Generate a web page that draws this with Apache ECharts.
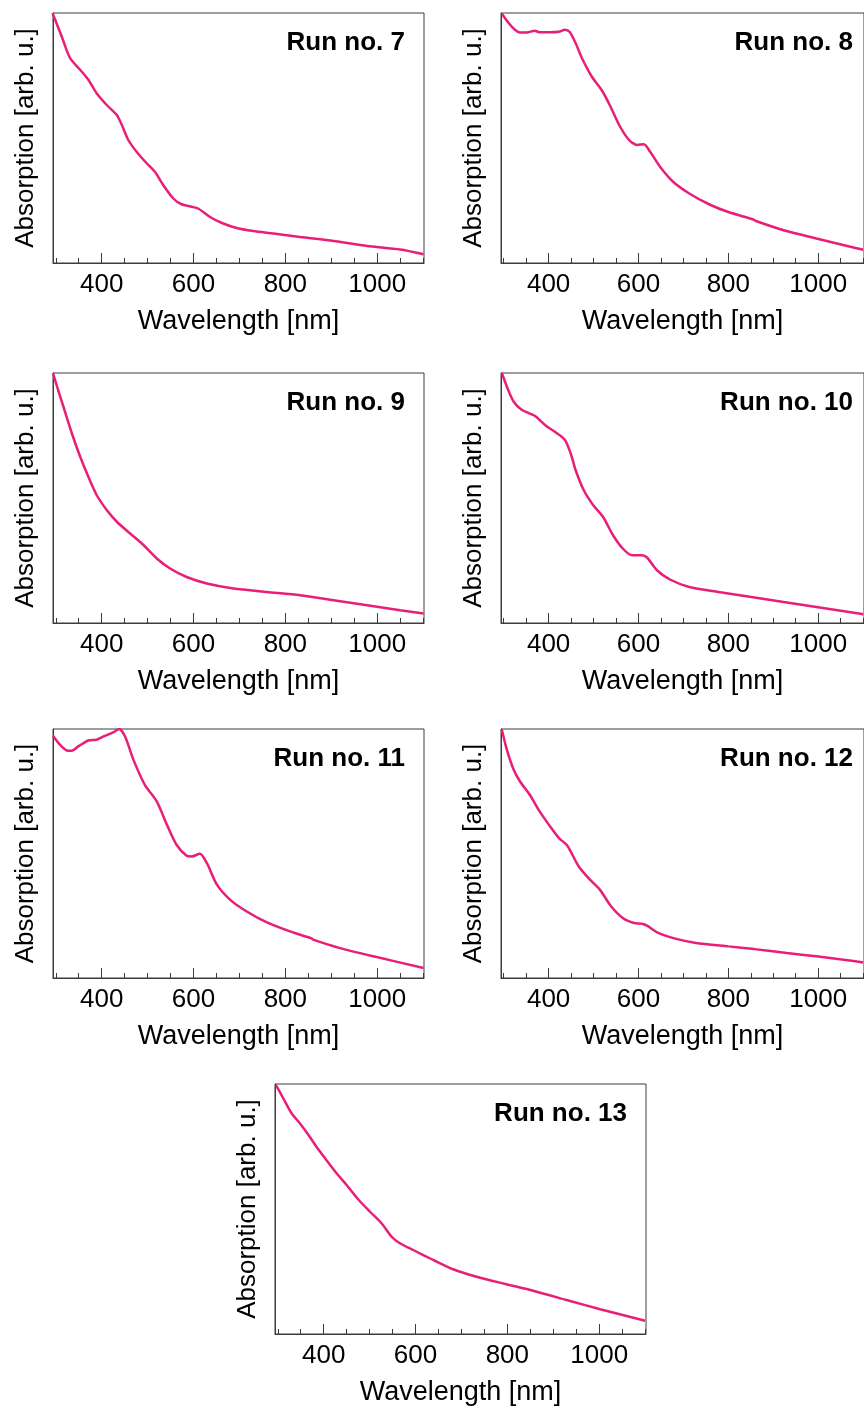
<!DOCTYPE html>
<html>
<head>
<meta charset="utf-8">
<script src="https://cdn.jsdelivr.net/npm/echarts@6/dist/echarts.min.js"></script>
<style>
html,body{margin:0;padding:0;background:#fff;}
#chart{width:864px;height:1410px;}
</style>
</head>
<body>
<div id="chart"></div>
<script>
// ---- data (wavelength in nm, absorption in arb. units) ----
const runLabels = ["Run no. 7","Run no. 8","Run no. 9","Run no. 10","Run no. 11","Run no. 12","Run no. 13"];
const majorTicks = [400, 600, 800, 1000];
const minorTicks = [300,350,450,500,550,650,700,750,850,900,950,1050,1100];
const xTitle = "Wavelength [nm]";
const yTitle = "Absorption [arb. u.]";

const wl7  = [293,313,331,353,371,389,411,433,444,458,476,498,516,534,556,574,596,610,636,662,694,730,774,832,905,978,1050,1101];
const abs7 = [100,90.6,82,77.3,73.3,67.9,63.2,59.2,55.2,49.2,44.5,39.9,36.5,31.2,25.8,23.5,22.5,21.8,18.4,16.0,14.0,12.8,11.8,10.4,8.8,6.8,5.4,3.5];

const wl8  = [296,311,325,336,351,369,380,402,423,436,447,460,474,496,518,536,557,579,597,612,626,648,677,713,757,800,856,860,923,996,1083,1100];
const abs8 = [99.7,96,93.3,92.2,92.2,92.9,92.3,92.3,92.5,93.3,92.4,88,82,74.6,69.2,63.2,55.2,49.2,47.2,47.5,44.5,38.5,32.5,27.8,23.5,20.4,17.4,16.9,13.1,9.8,6.0,5.3];

const wl9  = [294,305,320,335,353,371,389,411,433,462,491,520,549,585,629,687,760,832,905,978,1050,1101];
const abs9 = [100,93.3,84.6,75.9,66.6,58.5,51.2,45.2,40.5,35.8,31.2,25.8,21.8,18.4,15.8,13.8,12.4,11.1,9.1,7.1,5.1,3.8];

const wl10  = [296,307,322,340,369,394,416,436,449,460,478,499,521,543,565,586,608,619,641,670,713,778,851,923,996,1083,1100];
const abs10 = [100,94.6,88.6,85.3,82.9,78.9,76.2,73.3,67.9,61.2,53.2,47.2,42.5,35.2,29.8,27.1,27.1,26.2,21.1,17.4,14.4,12.4,10.4,8.4,6.4,4.0,3.5];

const wl11  = [294,309,324,335,349,371,389,404,425,438,451,469,494,520,542,563,585,596,614,629,651,680,716,760,810,857,862,919,999,1101];
const abs11 = [97.3,93.7,91.4,91.3,93.0,95.4,95.7,97.0,98.6,100,97.0,87.7,77.6,70.9,61.6,53.5,49.1,48.8,49.9,46.2,37.5,31.4,26.7,22.3,18.7,15.9,15.3,12.0,8.4,4.0];

const wl12  = [296,307,322,336,358,380,402,423,441,467,492,514,539,565,590,608,619,644,684,728,800,858,930,996,1083,1100];
const abs12 = [99.7,91.7,83.7,79.0,73.6,66.9,61.2,56.2,53.3,44.8,39.5,35.5,28.8,24.1,22.1,21.8,21.0,18.1,15.7,14.1,12.7,11.6,10.0,8.7,6.7,6.2];

const wl13  = [296,312,330,348,367,385,403,428,450,475,501,526,548,566,595,639,682,733,798,856,929,1002,1100];
const abs13 = [99.6,94.3,88.3,84.3,79.6,74.7,70.3,64.3,59.6,53.9,48.9,44.3,38.9,36.3,33.6,29.6,25.9,22.9,19.9,17.3,13.6,9.9,5.3];

const wavelengths = [wl7, wl8, wl9, wl10, wl11, wl12, wl13];
const absorptions = [abs7, abs8, abs9, abs10, abs11, abs12, abs13];

// ---- layout ----
const panels = [
  {left: 53,  top: 13,   height: 250},
  {left: 501, top: 13,   height: 250},
  {left: 53,  top: 373,  height: 250},
  {left: 501, top: 373,  height: 250},
  {left: 53,  top: 729,  height: 249},
  {left: 501, top: 729,  height: 249},
  {left: 275, top: 1084, height: 250}
];
const W = 864, PW = 371;
const FONT = "'Liberation Sans', Arial, Helvetica, sans-serif";
const FRAME = '#3c3c3c';
const LINE = '#E91E78';

const grid = [], xAxis = [], yAxis = [], series = [], title = [];
panels.forEach((p, i) => {
  grid.push({left: p.left, top: p.top, width: PW, height: p.height, show: true,
             borderColor: FRAME, borderWidth: 1, containLabel: false, backgroundColor: 'transparent'});
  // main x axis: labels + major ticks
  xAxis.push({
    type: 'value', gridIndex: i, min: 294, max: 1102, position: 'bottom',
    name: xTitle, nameLocation: 'middle', nameGap: 45,
    nameTextStyle: {fontFamily: FONT, fontSize: 27, color: '#000'},
    axisLine: {show: true, lineStyle: {color: FRAME, width: 1}},
    axisTick: {show: true, inside: true, length: 10, customValues: majorTicks, lineStyle: {color: FRAME, width: 1}},
    axisLabel: {show: true, customValues: majorTicks, margin: 9, fontFamily: FONT, fontSize: 26, color: '#000',
                formatter: v => String(v)},
    splitLine: {show: false}
  });
  // minor ticks
  xAxis.push({
    type: 'value', gridIndex: i, min: 294, max: 1102, position: 'bottom',
    axisLine: {show: false},
    axisTick: {show: true, inside: true, length: 5, customValues: minorTicks, lineStyle: {color: FRAME, width: 1}},
    axisLabel: {show: false, customValues: minorTicks},
    splitLine: {show: false}
  });
  yAxis.push({
    type: 'value', gridIndex: i, min: 0, max: 100,
    name: yTitle, nameLocation: 'middle', nameGap: 14,
    nameTextStyle: {fontFamily: FONT, fontSize: 26, color: '#000'},
    axisLine: {show: true, lineStyle: {color: FRAME, width: 1}},
    axisTick: {show: false}, axisLabel: {show: false}, splitLine: {show: false}
  });
  const wl = wavelengths[i], ab = absorptions[i];
  series.push({
    type: 'line', xAxisIndex: 2 * i, yAxisIndex: i,
    data: wl.map((w, k) => [w, ab[k]]),
    showSymbol: false, smooth: 0.25, clip: true,
    lineStyle: {color: LINE, width: 2.5}, silent: true
  });
  title.push({
    text: runLabels[i], right: W - (p.left + 352), top: p.top + 17, padding: 0,
    textStyle: {fontFamily: FONT, fontSize: 26, fontWeight: 'bold', color: '#000'}
  });
});

const chart = echarts.init(document.getElementById('chart'), null, {renderer: 'canvas'});
chart.setOption({animation: false, backgroundColor: '#fff', title, grid, xAxis, yAxis, series});
</script>
</body>
</html>
